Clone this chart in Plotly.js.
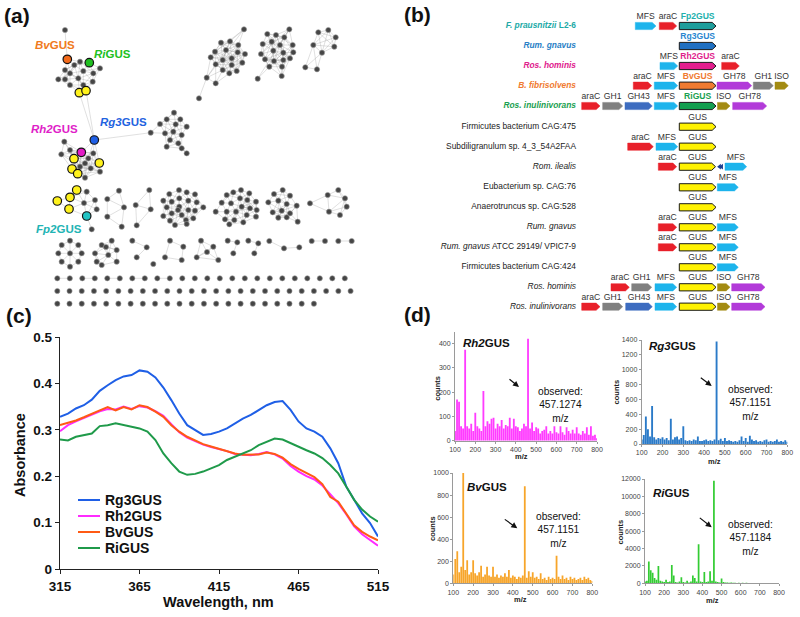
<!DOCTYPE html>
<html><head><meta charset="utf-8">
<script src="https://cdn.plot.ly/plotly-3.0.1.min.js"></script>
<style>html,body{margin:0;padding:0;background:#fff}#chart{width:800px;height:617px}</style>
</head><body><div id="chart"></div>
<script>
// ================= DATA =================
// Panel (c): absorbance spectra
const wavelength = [315,320,325,330,335,340,345,350,355,360,365,370,375,380,385,390,395,400,405,410,415,420,425,430,435,440,445,450,455,460,465,470,475,480,485,490,495,500,505,510,515];
const absRg3 = [0.328,0.335,0.346,0.353,0.365,0.384,0.396,0.407,0.415,0.418,0.428,0.425,0.413,0.391,0.364,0.335,0.310,0.299,0.289,0.291,0.296,0.303,0.314,0.324,0.332,0.342,0.353,0.360,0.362,0.343,0.318,0.303,0.296,0.285,0.260,0.228,0.178,0.149,0.120,0.099,0.070];
const absRh2 = [0.297,0.310,0.318,0.325,0.333,0.340,0.345,0.344,0.350,0.345,0.351,0.348,0.340,0.330,0.312,0.295,0.283,0.276,0.268,0.263,0.259,0.254,0.248,0.246,0.245,0.248,0.252,0.247,0.238,0.222,0.210,0.200,0.193,0.180,0.160,0.142,0.118,0.092,0.075,0.062,0.050];
const absBv  = [0.310,0.315,0.320,0.327,0.335,0.342,0.349,0.342,0.349,0.344,0.353,0.349,0.339,0.328,0.310,0.296,0.285,0.277,0.269,0.264,0.259,0.254,0.249,0.246,0.246,0.247,0.251,0.248,0.240,0.226,0.216,0.207,0.198,0.183,0.155,0.145,0.120,0.094,0.080,0.070,0.062];
const absRi  = [0.279,0.277,0.285,0.289,0.292,0.308,0.310,0.314,0.310,0.307,0.303,0.296,0.278,0.249,0.228,0.210,0.203,0.205,0.210,0.217,0.224,0.235,0.242,0.248,0.256,0.267,0.274,0.281,0.279,0.271,0.264,0.256,0.249,0.239,0.224,0.206,0.178,0.149,0.128,0.113,0.102];
const absNames = ['Rg3GUS','Rh2GUS','BvGUS','RiGUS'];
const xTicksC = [315,365,415,465,515];

// Panel (d): mass spectra (m/z, counts)
const mz = [100,110,120,130,140,150,160,170,180,190,200,210,220,230,240,250,260,270,280,290,300,310,320,330,340,350,360,370,380,390,400,410,420,430,440,450,460,470,480,490,500,510,520,530,540,550,560,570,580,590,600,610,620,630,640,650,660,670,680,690,700,710,720,730,740,750,760,770,780,790,800];
const cntRh2 = [40,170,160,60,50,375,60,50,70,40,115,60,50,40,205,60,80,70,90,95,50,70,60,85,50,65,60,95,50,90,60,55,40,50,70,60,420,50,75,40,55,50,30,40,45,60,30,40,30,60,35,30,60,35,25,55,40,30,45,30,55,30,25,40,30,55,25,60,20,25,10];
const cntRg3 = [60,120,370,200,100,510,90,60,80,70,90,60,80,50,340,60,90,100,60,80,240,50,40,50,40,60,50,100,40,40,50,60,40,50,40,60,1380,50,70,40,80,40,50,40,30,40,30,50,100,40,80,30,110,60,40,50,30,40,30,50,60,30,40,30,40,60,30,40,30,50,30];
const cntBv  = [80,220,290,100,150,1000,120,210,80,100,210,90,70,100,160,60,80,150,70,60,150,60,80,50,70,60,90,60,120,50,70,60,40,60,50,70,880,50,110,60,100,50,60,40,90,40,50,30,60,40,50,40,250,60,40,70,40,50,30,60,40,50,30,40,50,30,60,40,50,30,20];
const cntRi  = [200,300,2500,1500,1200,600,400,2000,300,200,150,400,150,200,2100,900,150,100,200,700,150,100,300,100,200,900,600,200,4500,200,150,1300,150,200,1400,300,11800,200,150,100,550,150,100,80,60,80,50,60,40,50,40,60,40,50,30,40,30,40,30,30,40,30,30,20,30,20,30,20,30,20,20];
const specTitles = ['Rh2','Rg3','Bv','Ri'];
const obsMass = ['457.1274','457.1151','457.1151','457.1184'];

// Panel (b): gene clusters  [gene, start, end]
const speciesNames = [
 '<b><i>F. prausnitzii</i> L2-6</b>','<b><i>Rum. gnavus</i></b>','<b><i>Ros. hominis</i></b>',
 '<b><i>B. fibrisolvens</i></b>','<b><i>Ros. inulinivorans</i></b>','Firmicutes bacterium CAG:475',
 'Subdiligranulum sp. 4_3_54A2FAA','<i>Rom. ilealis</i>','Eubacterium sp. CAG:76','Anaerotruncus sp. CAG:528',
 '<i>Rum. gnavus</i>','<i>Rum. gnavus</i> ATCC 29149/ VPIC7-9','Firmicutes bacterium CAG:424',
 '<i>Ros. hominis</i>','<i>Ros. inulinivorans</i>'];
const geneRows = [
 [['MFS',635.3,656],['araC',659.3,676.7],['Fp2GUS',679.3,716]],
 [['Rg3GUS',679.3,716]],
 [['MFS',660,677.7],['Rh2GUS',679.3,716],['araC',721.7,739.3]],
 [['araC',633.3,651.7],['MFS',654.3,677.7],['BvGUS',679.3,716],['GH78',717,751.7],['GH1',753.3,773.3],['ISO',775,788.3]],
 [['araC',581.7,600],['GH1',602.7,622.7],['GH43',625,652.3],['MFS',654.3,677.7],['RiGUS',679.3,716],['ISO',717.5,730],['GH78',732.7,766.7]],
 [['GUS',679.3,716]],
 [['araC',627.7,653.3],['MFS',656,677.7],['GUS',679.3,716]],
 [['araC',658.3,676.7],['GUS',679.3,715.5],['rev',718,723.5],['MFS',725,746.7]],
 [['GUS',679.3,716],['MFS',717.3,738.3]],
 [['GUS',679.3,716]],
 [['araC',658.3,676.7],['GUS',679.3,716],['MFS',717.3,738.3]],
 [['araC',658.3,676.7],['GUS',679.3,716],['MFS',717.3,738.3]],
 [['GUS',679.3,716],['MFS',717.3,738.3]],
 [['araC',611,629.3],['GH1',631.7,651.7],['MFS',655,676.7],['GUS',679.3,716],['ISO',717.5,730],['GH78',731.7,765]],
 [['araC',581.7,600],['GH1',602.7,622.7],['GH43',625.7,652.3],['MFS',655,676.7],['GUS',679.3,716],['ISO',717.5,730],['GH78',731.7,765]]
];
const rowY = [26,46,66,85.7,106,126.7,146.7,166.7,187.3,207.3,227.3,247.3,267.3,287.3,306.7];

// Panel (a): sequence similarity network  [x, y, kind]
const netA = [[65,30,''],[67.3,59.3,'Bv'],[89.3,62.7,'Ri'],[80,61.7,''],[74.3,65,''],[65,70,''],[100,68.3,''],[83.3,71,''],[93.3,73.3,''],[70,73.3,''],[58.3,79.3,''],[65,79.3,''],[78.3,78.3,''],[92.7,81.7,''],[70,85,''],[83.3,85,''],[79.3,92.7,'Y'],[86,90.7,'Y']];
const netB = [[94.3,140,'Rg3'],[81.3,152.3,'Rh2'],[74,158.7,'Y'],[99.3,163,'Y'],[72,169,'Y'],[77.7,173.7,'Y'],[64.3,141.7,''],[61.3,154.3,''],[70,150,''],[88.3,158.3,''],[93.3,153.3,''],[85,163.3,''],[90.7,168.3,''],[100,171.7,''],[85,177.7,''],[80,166.7,'']];
const netC = [[174,112.7,''],[166.7,119.3,''],[180.3,119.3,''],[160,124,''],[175.7,124.3,''],[186.7,126.7,''],[150.7,132.7,''],[165,133.3,''],[173.3,131.7,''],[181.7,135,''],[170,140,''],[178.3,143.3,''],[166.7,146.7,''],[181.7,148.3,''],[186.7,153.3,'']];
const netD = [[244,29.3,''],[221,42.7,''],[230,41.3,''],[238.3,45,''],[215,51.7,''],[226,50,''],[237.7,52.3,''],[245,54,''],[210.7,57.3,''],[222.7,60,''],[231.7,58.3,''],[215.7,64.3,''],[231.7,65,''],[242.3,62.7,''],[222.7,70,''],[236.7,71,''],[229.3,73.3,''],[206.7,77.7,''],[215.7,83.3,''],[199,98.3,'']];
const netE = [[289.3,29.3,''],[267.3,34,''],[276,35,''],[284.3,37.3,''],[262.7,44,''],[271.7,41.7,''],[280,45,''],[292.7,45,''],[261,54,''],[273.3,50.7,''],[283.3,52.7,''],[293.3,52.3,''],[265,59.3,''],[274,61,''],[283.3,60,''],[290,58.3,''],[269.3,66.7,''],[282,66.7,''],[257.7,78.7,''],[281.7,76,'']];
const netF = [[318.3,32.3,''],[328.3,30,''],[335.7,37.3,''],[313.3,45,''],[334.3,46.7,''],[322,52.7,''],[305.3,67.3,''],[317,69.3,'']];
const netFp = [[57.3,201,'Y'],[70,197.3,'Y'],[76.7,190,'Y'],[69,209,'Y'],[86.7,216,'Fp2'],[86.7,191.7,''],[95,200,''],[96.7,209.3,''],[84,203,''],[91.7,229.3,'']];
const netK = [[119,190.7,''],[107.3,199,''],[124,207.3,''],[107.3,216.7,''],[121.7,226.7,'']];
const netL = [[149.3,190,''],[135.7,205,''],[150.7,209.3,''],[136.7,225.3,'']];
const netG = [[169.3,194,''],[179,190,''],[186.7,192.3,''],[195,194.3,''],[163.3,200.7,''],[171.7,201.7,''],[179.3,198.3,''],[188.3,200.7,''],[196.7,202.3,''],[166.7,207.3,''],[179.3,206.7,''],[188.3,210,''],[195,210.7,''],[203.3,207.3,''],[171.7,213.3,''],[181.7,215,''],[163.3,216,''],[170,220.7,''],[186,220,''],[193.3,218.3,''],[175,225,''],[186.7,224,''],[178,210,'']];
const netH = [[241,190,''],[233.3,192.3,''],[249.3,193.3,''],[226.7,195,''],[240,198.3,''],[247.3,200,''],[256,201.7,''],[221.7,202.7,''],[231,203.3,''],[241.7,206.7,''],[250,208.3,''],[256.7,210,''],[215.7,211.7,''],[226.7,211.7,''],[236,211.7,''],[246.7,215,''],[256,216.7,''],[225,219.3,''],[234.3,220,''],[243.3,222.3,''],[229.3,224.3,'']];
const netI = [[282.7,190,''],[274,194,''],[290,195.7,''],[268.3,202.3,''],[278.3,200.7,''],[286.7,204,''],[296.7,205.7,''],[272.7,212.3,''],[281.7,210.7,''],[290,213.3,''],[278.3,217.7,''],[286.7,217.3,''],[297.7,221.7,'']];
const netJ = [[310,203.3,''],[327.7,195,''],[338.3,190,''],[345,198.3,''],[346.7,206.7,''],[340,215,''],[329,211.7,'']];
const netM = [[70,240.7,''],[61.7,245,''],[78.3,245,''],[58.3,253.3,''],[81.7,253.3,''],[61.7,261.7,''],[78.3,261.7,''],[70,266.7,''],[70,253.3,'']];
const netN = [[111.7,240.7,''],[101.7,245,''],[95,253.3,''],[116.7,250,''],[108.3,255,''],[96.7,261.7,''],[116.7,261.7,''],[101.7,265,''],[106,247,'']];
const netO = [[132.3,240.7,''],[146.7,247.3,''],[136.7,257.3,''],[153.3,264,'']];
const netP = [[170,240.7,''],[183.3,246.7,''],[165,257.3,''],[181.7,260,'']];
const netQ = [[201,240.7,''],[213.3,246.7,''],[196.7,257.3,''],[218.3,260,''],[207,252,'']];
const netR = [[227.7,240.7,''],[237.3,242.3,''],[233.3,253.3,'']];
const netS = [[248.3,240.7,''],[258.3,243.3,''],[254.3,253.3,'']];
const netT = [[269.3,241,''],[284,248.3,''],[299.3,247.3,'']];
const netU1 = [[311.7,241,''],[325,241,'']];
const netU2 = [[338.3,241,''],[351.7,241,'']];
const netExtraEdges = [[[65,30],[67.3,59.3]],[[94.3,140],[79.3,92.7]],[[94.3,140],[86,90.7]],[[94.3,140],[150.7,132.7]],[[244,29.3],[215,51.7]],[[244,29.3],[206.7,77.7]],[[289.3,29.3],[261,54]],[[289.3,29.3],[257.7,78.7]]];
const pairRowCount = 24, pairedNodes = 10, singleRowCounts = [25,22];
const netLabels = [['<i>Bv</i>GUS','Bv'],['<i>Ri</i>GUS','Ri'],['<i>Rg3</i>GUS','Rg3'],['<i>Rh2</i>GUS','Rh2'],['<i>Fp2</i>GUS','Fp2']];

// ================= STYLE / LAYOUT =================
const W = 800, H = 617;
const px = x => x / W, py = y => 1 - y / H;
const FONT = 'Liberation Sans, Arial, sans-serif';
const traces = [], annotations = [], shapes = [];
function ann(x, y, text, font, extra) {
  annotations.push(Object.assign({x:px(x), y:py(y), xref:'paper', yref:'paper', text:text, showarrow:false,
    xanchor:'center', yanchor:'middle', font:Object.assign({family:FONT}, font)}, extra || {}));
}

// ---- Panel (a)
const hlColor = {Bv:'#f26a1b', Ri:'#1fbf1f', Rg3:'#1f5fe6', Rh2:'#e31cc6', Fp2:'#22c3c3', Y:'#fff21c'};
const hlText = {Bv:'#f07a20', Ri:'#22c022', Rg3:'#1f63e0', Rh2:'#e01ec8', Fp2:'#22b4b4'};
const labelPos = {Bv:[55,45], Ri:[112.5,54], Rg3:[123.7,121.7], Rh2:[54.2,129.3], Fp2:[59.2,229.3]};
const clusters = [[netA,18],[netB,25],[netC,18],[netD,22],[netE,20],[netF,25],[netFp,20],[netK,20],[netL,22],[netG,16],[netH,16],[netI,17],[netJ,22],[netM,16],[netN,16],[netO,17],[netP,20],[netQ,22],[netR,13],[netS,13],[netT,17],[netU1,14],[netU2,14]];
const ex = [], ey = [];
clusters.forEach(([nodes, link]) => {
  for (let i = 0; i < nodes.length; i++) for (let j = i + 1; j < nodes.length; j++) {
    const d = Math.hypot(nodes[i][0]-nodes[j][0], nodes[i][1]-nodes[j][1]);
    if (d <= link) { ex.push(nodes[i][0], nodes[j][0], null); ey.push(nodes[i][1], nodes[j][1], null); }
  }
});
netExtraEdges.forEach(([a,b]) => { ex.push(a[0], b[0], null); ey.push(a[1], b[1], null); });
const gridX0 = 57.3, gridStep1 = 12.5, gridStep2 = 12.22;
const gridNodes = [];
for (let i = 0; i < pairRowCount; i++) gridNodes.push([gridX0 + i*gridStep1, 278.3]);
for (let i = 0; i < pairedNodes; i += 2) { ex.push(gridNodes[i][0], gridNodes[i+1][0], null); ey.push(278.3, 278.3, null); }
singleRowCounts.forEach((n, r) => { for (let i = 0; i < n; i++) gridNodes.push([gridX0 + i*gridStep2, 291 + r*12.7]); });
traces.push({type:'scatter', mode:'lines', x:ex, y:ey, xaxis:'x', yaxis:'y', line:{color:'rgba(150,150,150,0.5)', width:0.6}, hoverinfo:'skip', showlegend:false});
const gx = [], gy = [], hx = [], hy = [], hc = [];
clusters.forEach(([nodes]) => nodes.forEach(n => {
  if (n[2]) { hx.push(n[0]); hy.push(n[1]); hc.push(hlColor[n[2]]); } else { gx.push(n[0]); gy.push(n[1]); }
}));
gridNodes.forEach(n => { gx.push(n[0]); gy.push(n[1]); });
traces.push({type:'scatter', mode:'markers', x:gx, y:gy, xaxis:'x', yaxis:'y', marker:{color:'#454545', size:5.2, line:{color:'#9a9a9a', width:0.6}}, hoverinfo:'skip', showlegend:false});
traces.push({type:'scatter', mode:'markers', x:hx, y:hy, xaxis:'x', yaxis:'y', marker:{color:hc, size:8.5, line:{color:'#111', width:1.2}}, hoverinfo:'skip', showlegend:false});
netLabels.forEach(([t,k]) => ann(labelPos[k][0], labelPos[k][1], t, {size:11.5, color:hlText[k], weight:'bold'}));

// ---- Panel (b)
const geneColor = {MFS:'#1db4ec', araC:'#e8202a', GH1:'#808080', GH43:'#3d6cc0', GH78:'#b23ad9', ISO:'#a38b12', GUS:'#fff200',
  Fp2GUS:'#1e9e9c', Rg3GUS:'#2070c2', Rh2GUS:'#e31f8e', BvGUS:'#f07a30', RiGUS:'#139f50'};
const gusLabelColor = {Fp2GUS:'#22b0ac', Rg3GUS:'#2a86d0', Rh2GUS:'#e01e8c', BvGUS:'#f07a30', RiGUS:'#18a050'};
const speciesColor = ['#21a9a6','#2a7fc6','#e0208c','#f07a30','#1aa050'];
const HALF = 3.6, HEAD = 3.8;
const lx = [], ly = [], lt = [], lc = [];
geneRows.forEach((row, r) => {
  const yc = rowY[r];
  row.forEach(([g, s, e]) => {
    if (g === 'rev') {
      traces.push({type:'scatter', mode:'markers', x:[s+1.6, e-1.8], y:[yc, yc], xaxis:'x2', yaxis:'y2', marker:{symbol:'triangle-left', size:5, color:'#1a3d8f'}, hoverinfo:'skip', showlegend:false});
      return;
    }
    const isGus = g.indexOf('GUS') >= 0;
    traces.push({type:'scatter', mode:'lines', x:[s, e-HEAD, e, e-HEAD, s, s], y:[yc-HALF, yc-HALF, yc, yc+HALF, yc+HALF, yc-HALF],
      xaxis:'x2', yaxis:'y2', fill:'toself', fillcolor:geneColor[g], line:{color:isGus ? '#1a1a1a' : geneColor[g], width:isGus ? 1 : 0.5},
      hoverinfo:'skip', showlegend:false});
    lx.push((s+e)/2); ly.push(yc-9.3);
    lt.push(gusLabelColor[g] ? '<b>'+g+'</b>' : g); lc.push(gusLabelColor[g] || '#333');
  });
});
traces.push({type:'scatter', mode:'text', x:lx, y:ly, text:lt, xaxis:'x2', yaxis:'y2', textposition:'middle center', textfont:{family:FONT, size:8.6, color:lc}, cliponaxis:false, hoverinfo:'skip', showlegend:false});
traces.push({type:'scatter', mode:'text', x:rowY.map(() => 576), y:rowY, text:speciesNames, xaxis:'x2', yaxis:'y2', textposition:'middle left',
  textfont:{family:FONT, size:8.4, color:rowY.map((_, i) => speciesColor[i] || '#222')}, cliponaxis:false, hoverinfo:'skip', showlegend:false});

// ---- Panel (c)
const absColors = ['#1f5fe6','#ff2bff','#ff5a14','#1f9a4a'];
[absRg3, absRh2, absBv, absRi].forEach((ys, i) => traces.push({type:'scatter', mode:'lines', x:wavelength, y:ys, name:absNames[i], xaxis:'x3', yaxis:'y3', line:{color:absColors[i], width:2}, showlegend:false}));
ann(20, 455, 'Absorbance', {size:14.5, color:'#111', weight:'bold'}, {textangle:-90});
ann(218, 602, 'Wavelength, nm', {size:14.5, color:'#111', weight:'bold'});
// legend (panel c)
absNames.forEach((nm, i) => {
  const yy = 500 + i*16;
  shapes.push({type:'line', xref:'paper', yref:'paper', x0:px(78), x1:px(100), y0:py(yy), y1:py(yy), line:{color:absColors[i], width:2}});
  ann(103, yy, nm, {size:14, color:'#111', weight:'bold'}, {xanchor:'left'});
});

// ---- Panel (d)
const specColors = ['#ff3cff','#2a7ac8','#f7a52a','#33cc33'];
const specCounts = [cntRh2, cntRg3, cntBv, cntRi];
const specGeom = [
  {xd:[455,597], yd:[440.7,331.5], yr:[0,450], dt:100, title:[486.5,343], obs:[560,405], arrow:[[508,378],[519,387]], counts:[436.7,388], mzl:[521.7,457]},
  {xd:[641.7,787.3], yd:[444,340], yr:[0,1400], dt:200, title:[672.5,346], obs:[750,403], arrow:[[699.3,376.7],[711.7,386]], counts:[616.7,391.7], mzl:[714.5,461]},
  {xd:[453.3,592.3], yd:[583.3,473], yr:[0,1000], dt:200, title:[486.5,487.3], obs:[558.3,529.7], arrow:[[503.3,518.3],[517.3,528.3]], counts:[432.7,528.3], mzl:[520.7,599.5]},
  {xd:[645,779], yd:[583.3,479], yr:[0,12000], dt:2000, title:[671.5,492.7], obs:[750.7,537.5], arrow:[[698.3,516.7],[711.7,527.3]], counts:[620.7,531.7], mzl:[712.7,600]}
];
const layout = {
  width:W, height:H, margin:{l:0,r:0,t:0,b:0}, paper_bgcolor:'#fff', plot_bgcolor:'rgba(0,0,0,0)',
  font:{family:FONT}, bargap:0.1, showlegend:false, hovermode:false,
  xaxis:{domain:[0,0.5], range:[0,400], visible:false, anchor:'y'},
  yaxis:{domain:[py(310),1], range:[310,0], visible:false, anchor:'x'},
  xaxis2:{domain:[0.5,1], range:[400,800], visible:false, anchor:'y2'},
  yaxis2:{domain:[py(315),1], range:[315,0], visible:false, anchor:'x2'},
  xaxis3:{domain:[px(60),px(378)], range:[315,515], tickvals:xTicksC, showline:true, linecolor:'#222', linewidth:1.3, ticks:'outside', ticklen:4, tickcolor:'#222',
    showgrid:false, zeroline:false, tickfont:{family:FONT, size:13.5, color:'#111', weight:'bold'}, anchor:'y3'},
  yaxis3:{domain:[py(569),py(337)], range:[0,0.5], dtick:0.1, showline:true, linecolor:'#222', linewidth:1.3, ticks:'outside', ticklen:4, tickcolor:'#222',
    showgrid:false, zeroline:false, tickfont:{family:FONT, size:13.5, color:'#111', weight:'bold'}, anchor:'x3'},
  annotations: annotations, shapes: shapes
};
specGeom.forEach((g, i) => {
  const n = i + 4, xa = 'x'+n, ya = 'y'+n;
  traces.push({type:'bar', x:mz, y:specCounts[i], xaxis:xa, yaxis:ya, width:9, marker:{color:specColors[i], line:{width:0}}, hoverinfo:'skip', showlegend:false});
  layout['xaxis'+n] = {domain:[px(g.xd[0]), px(g.xd[1])], range:[100,800], dtick:100, showline:true, linecolor:'#9a9a9a', linewidth:1, ticks:'outside', ticklen:2, tickcolor:'#9a9a9a',
    showgrid:false, zeroline:false, tickfont:{family:FONT, size:7, color:'#444'}, anchor:ya};
  layout['yaxis'+n] = {domain:[py(g.yd[0]), py(g.yd[1])], range:g.yr, dtick:g.dt, tickformat:'d', showline:true, linecolor:'#9a9a9a', linewidth:1, ticks:'outside', ticklen:2, tickcolor:'#9a9a9a',
    showgrid:false, zeroline:false, tickfont:{family:FONT, size:7, color:'#444'}, anchor:xa};
  ann(g.title[0], g.title[1], '<i>'+specTitles[i]+'</i>GUS', {size:11.5, color:'#111', weight:'bold'});
  ann(g.obs[0], g.obs[1], 'observed:<br>'+obsMass[i]+'<br>m/z', {size:10.2, color:'#111'});
  annotations.push({x:px(g.arrow[1][0]), y:py(g.arrow[1][1]), xref:'paper', yref:'paper', text:'', showarrow:true, arrowhead:2, arrowsize:1, arrowwidth:1.2, arrowcolor:'#111',
    ax:g.arrow[0][0]-g.arrow[1][0], ay:g.arrow[0][1]-g.arrow[1][1]});
  ann(g.counts[0], g.counts[1], 'counts', {size:7.5, color:'#222', weight:'bold'}, {textangle:-90});
  ann(g.mzl[0], g.mzl[1], 'm/z', {size:7.5, color:'#222', weight:'bold'});
});
// panel letters
[['(a)',17,16],['(b)',417.5,14],['(c)',19,315],['(d)',417,314]].forEach(([t,x,y]) => ann(x, y, t, {size:21, color:'#111', weight:'bold'}));

Plotly.newPlot('chart', traces, layout, {staticPlot:true, displayModeBar:false});
</script></body></html>
